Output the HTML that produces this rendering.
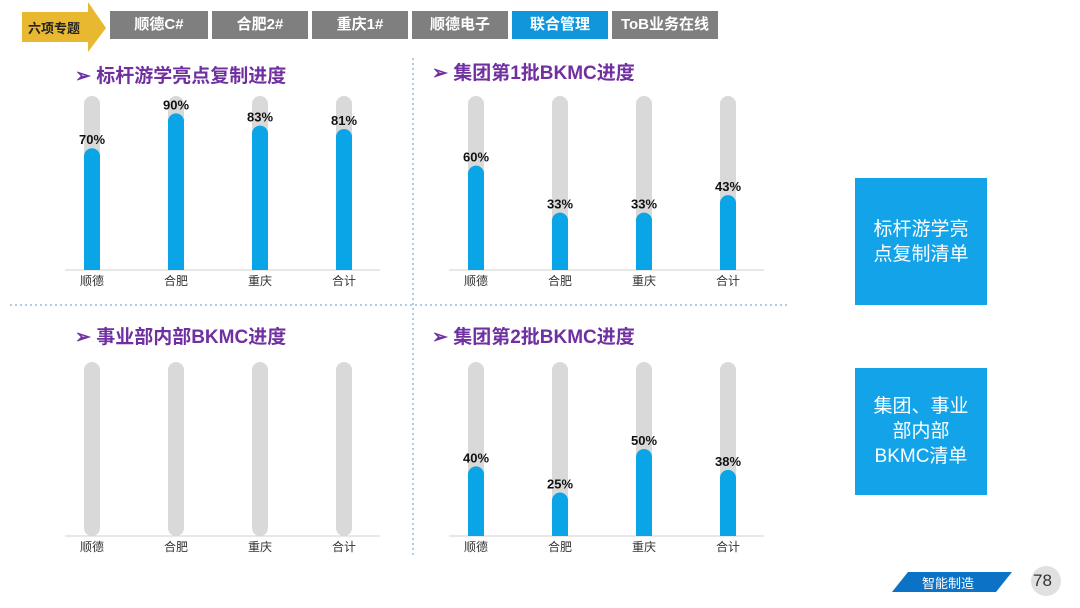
<!DOCTYPE html>
<html><head><meta charset="utf-8"><style>
body{margin:0;width:1080px;height:608px;background:#fff;overflow:hidden;font-family:"Liberation Sans","Noto Sans CJK SC",sans-serif;position:relative}
.tab{position:absolute;top:11px;height:28px;background:#7f7f7f;color:#fff;font-size:15px;font-weight:bold;text-align:center;line-height:28px}
.title{position:absolute;font-size:19px;color:#7030a0;font-weight:bold}
.box{position:absolute;left:855px;width:132px;background:#12a3e8;color:#fff;font-size:19px;text-align:center;display:flex;align-items:center;justify-content:center;line-height:25px}
</style></head><body>
<svg width="1080" height="608" style="position:absolute;left:0;top:0">
<polygon points="22,12 88,12 88,2 106,28 88,52 88,42 22,42" fill="#e8b830"/>
<line x1="413" y1="58" x2="413" y2="556" stroke="#5b9bd5" stroke-dasharray="2,3"/>
<line x1="10" y1="305" x2="790" y2="305" stroke="#5b9bd5" stroke-dasharray="2,3"/>
<polygon points="908,572 1012,572 996,592 892,592" fill="#0b72c6"/>
<circle cx="1046" cy="581" r="15" fill="#e0e0e0"/>
</svg>
<div style="position:absolute;left:28px;top:18px;font-size:13px;font-weight:bold;color:#222">六项专题</div>
<div class="tab" style="left:110px;width:98px">顺德C#</div>
<div class="tab" style="left:212px;width:96px">合肥2#</div>
<div class="tab" style="left:312px;width:96px">重庆1#</div>
<div class="tab" style="left:412px;width:96px">顺德电子</div>
<div class="tab" style="left:512px;width:96px;background:#1296db">联合管理</div>
<div class="tab" style="left:612px;width:106px">ToB业务在线</div>
<div class="title" style="left:75px;top:61px">➢ 标杆游学亮点复制进度</div>
<div class="title" style="left:432px;top:58px">➢ 集团第1批BKMC进度</div>
<div class="title" style="left:75px;top:322px">➢ 事业部内部BKMC进度</div>
<div class="title" style="left:432px;top:322px">➢ 集团第2批BKMC进度</div>
<div class="box" style="top:178px;height:127px">标杆游学亮<br>点复制清单</div>
<div class="box" style="top:368px;height:127px">集团、事业<br>部内部<br>BKMC清单</div>
<div style="position:absolute;left:922px;top:573px;color:#fff;font-size:13px">智能制造</div>
<div style="position:absolute;left:1033px;top:571px;font-size:17px;color:#333">78</div>
<svg id="charts" width="1080" height="608" style="position:absolute;left:0;top:0"></svg>
<script>
const categories=["顺德","合肥","重庆","合计"];
const chart1Values=[70,90,83,81];
const chart2Values=[60,33,33,43];
const chart3Values=[null,null,null,null];
const chart4Values=[40,25,50,38];
const svg=document.getElementById('charts');
const NS='http://www.w3.org/2000/svg';
function mk(t,a){const e=document.createElementNS(NS,t);for(const k in a)e.setAttribute(k,a[k]);svg.appendChild(e);return e;}
function drawChart(id,vals,x0,base){
  const H=174,step=84,bw=16;
  const xs=i=>x0+i*step;
  const ys=v=>base-v/100*H;
  const ax=mk('line',{x1:x0-27,y1:base,x2:x0+3*step+36,y2:base,stroke:'#d0d0d0'});
  
  
  vals.forEach((v,i)=>{
    const cx=xs(i);
    const tr=mk('rect',{x:cx-bw/2,y:ys(100),width:bw,height:H,rx:8,fill:'#d9d9d9'});
    
    
    if(v!==null){
      const h=base-ys(v);
      const b=mk('path',{d:`M${cx-bw/2},${base}V${ys(v)+8}A8,8 0 0 1 ${cx+bw/2},${ys(v)+8}V${base}Z`,fill:'#0aa5e6'});
      
      
      const t=mk('text',{x:cx,y:ys(v)-4,'text-anchor':'middle','font-size':13,'font-weight':'bold',fill:'#111','font-family':'Liberation Sans'});
      t.textContent=v+'%';
      
      
    }
    const l=mk('text',{x:cx,y:base+15,'text-anchor':'middle','font-size':12,fill:'#333','font-family':'Liberation Sans, Noto Sans CJK SC, sans-serif'});
    l.textContent=categories[i];
    
    
  });
}
drawChart('chart1',chart1Values,92,270);
drawChart('chart2',chart2Values,476,270);
drawChart('chart3',chart3Values,92,536);
drawChart('chart4',chart4Values,476,536);
</script>
</body></html>
